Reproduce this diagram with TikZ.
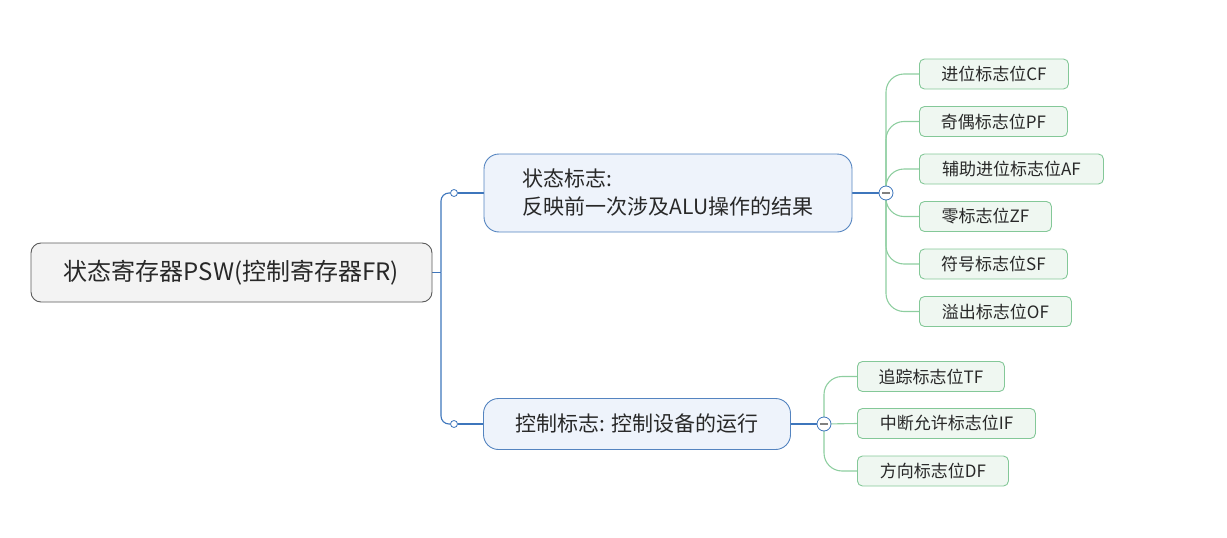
\documentclass[tikz,border=0pt]{standalone}
\usepackage{fontspec}
\setmainfont{Noto Sans CJK SC}
\usetikzlibrary{backgrounds}
\definecolor{txt}{RGB}{40,40,40}
\definecolor{rootfill}{RGB}{243,243,243}
\definecolor{rootline}{RGB}{90,90,90}
\definecolor{topicfill}{RGB}{238,243,251}
\definecolor{topicline}{RGB}{84,132,192}
\definecolor{bluelink}{RGB}{62,118,188}
\definecolor{leaffill}{RGB}{239,247,241}
\definecolor{leafline}{RGB}{132,200,152}
\definecolor{greenlink}{RGB}{142,206,160}
\begin{document}
\begin{tikzpicture}[x=1pt,y=-1pt,
  rootbox/.style={draw=rootline,fill=rootfill,rounded corners=10pt,line width=0.9pt,
    text=txt,font=\fontsize{24}{28}\selectfont},
  topic/.style={draw=topicline,fill=topicfill,rounded corners=15pt,line width=0.9pt,
    text=txt,font=\fontsize{21}{28}\selectfont,align=left},
  leaf/.style={draw=leafline,fill=leaffill,rounded corners=5pt,line width=0.9pt,
    text=txt,font=\fontsize{17}{20}\selectfont,anchor=west,minimum height=30pt},
  knob/.style={draw=bluelink,fill=white,circle,inner sep=0pt,line width=0.8pt},
  bluelinkline/.style={draw=bluelink,line width=1.1pt},
  greenlinkline/.style={draw=greenlink,line width=1.1pt,rounded corners=18pt}]
\useasboundingbox (0,0) rectangle (1227,538);

% main topic and the two branches
\node[rootbox,minimum width=401pt,minimum height=59pt] (psw) at (231.5,272.5) {状态寄存器PSW(控制寄存器FR)};
\node[topic,minimum width=368pt,minimum height=78pt] (state) at (668,193) {状态标志:\\反映前一次涉及ALU操作的结果};
\node[topic,minimum width=307pt,minimum height=51pt] (ctrl) at (637,424) {控制标志: 控制设备的运行};

\coordinate (j) at (441,272.5);
\node[knob,minimum size=7pt] (s1) at (454,193) {};
\node[knob,minimum size=7pt] (s2) at (454,424) {};

% collapse buttons
\node[knob,minimum size=14pt,text=gray] (m1) at (886,193) {\rule{7.5pt}{2.4pt}};
\node[knob,minimum size=14pt,text=gray] (m2) at (824,424) {\rule{7.5pt}{2.4pt}};

% status flags
\node[leaf,minimum width=149pt] (cf) at (919,74) {进位标志位CF};
\node[leaf,minimum width=148pt] (pf) at (919,121.5) {奇偶标志位PF};
\node[leaf,minimum width=184pt] (af) at (919,169) {辅助进位标志位AF};
\node[leaf,minimum width=132pt] (zf) at (919,216.5) {零标志位ZF};
\node[leaf,minimum width=148pt] (sf) at (919,264) {符号标志位SF};
\node[leaf,minimum width=152pt] (ovf) at (919,311.5) {溢出标志位OF};

% control flags
\node[leaf,minimum width=147pt] (tf) at (857,376.5) {追踪标志位TF};
\node[leaf,minimum width=178pt] (inf) at (857,423.5) {中断允许标志位IF};
\node[leaf,minimum width=151pt] (df) at (857,471) {方向标志位DF};

\begin{pgfonlayer}{background}
\draw[bluelinkline] (psw.east) -- (j);
\draw[bluelinkline,rounded corners=8pt] (j) |- (s1.west);
\draw[bluelinkline,rounded corners=8pt] (j) |- (s2.west);
\draw[bluelinkline] (s1.east) -- (state.west);
\draw[bluelinkline] (s2.east) -- (ctrl.west);
\draw[bluelinkline] (state.east) -- (m1.west);
\draw[bluelinkline] (ctrl.east) -- (m2.west);

\draw[greenlinkline] (m1.center) |- (cf.west);
\draw[greenlinkline] (m1.center) |- (pf.west);
\draw[greenlinkline] (m1.center) |- (af.west);
\draw[greenlinkline] (m1.center) |- (zf.west);
\draw[greenlinkline] (m1.center) |- (sf.west);
\draw[greenlinkline] (m1.center) |- (ovf.west);

\draw[greenlinkline] (m2.center) |- (tf.west);
\draw[greenlinkline] (m2.center) -- (inf.west);
\draw[greenlinkline] (m2.center) |- (df.west);
\end{pgfonlayer}
\end{tikzpicture}
\end{document}
